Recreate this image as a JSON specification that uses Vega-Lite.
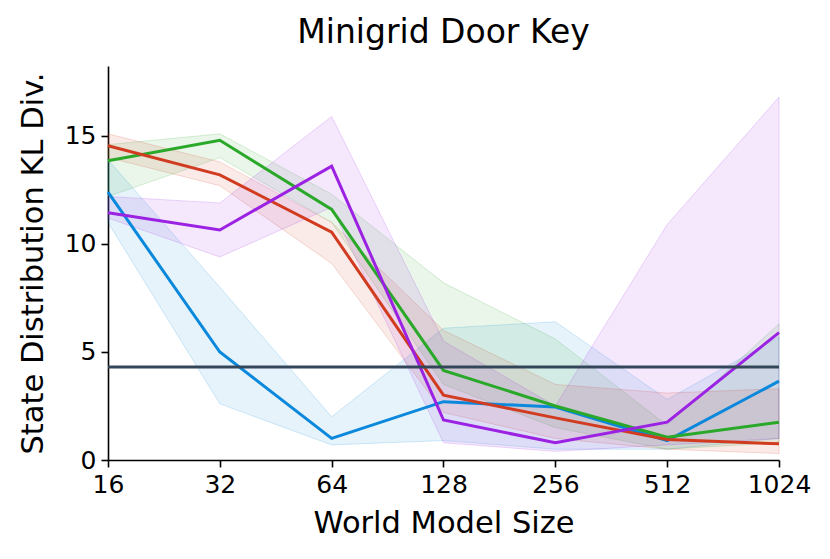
{
  "$schema": "https://vega.github.io/schema/vega-lite/v6.json",
  "width": 671,
  "height": 394,
  "autosize": {"type": "none"},
  "padding": {"left": 108, "top": 66, "right": 51, "bottom": 99},
  "background": "white",
  "title": {"text": "Minigrid Door Key", "fontSize": 33, "font": "DejaVu Sans", "fontWeight": "normal", "color": "black", "offset": 16},
  "config": {
    "view": {"stroke": null},
    "axis": {"labelFont": "DejaVu Sans", "titleFont": "DejaVu Sans", "labelFontSize": 25, "titleFontSize": 30.5, "titleFontWeight": "normal", "labelColor": "black", "titleColor": "black", "domainColor": "black", "tickColor": "black", "domainWidth": 1.6, "tickWidth": 1.6, "tickSize": 7, "labelPadding": 5, "grid": false}
  },
  "datasets": {
    "runs": [
      {"series": "A", "size": 16, "mean": 12.4, "lo": 11.0, "hi": 13.9},
      {"series": "A", "size": 32, "mean": 5.0, "lo": 2.6, "hi": 8.0},
      {"series": "A", "size": 64, "mean": 1.0, "lo": 0.7, "hi": 2.0},
      {"series": "A", "size": 128, "mean": 2.7, "lo": 0.9, "hi": 6.1},
      {"series": "A", "size": 256, "mean": 2.45, "lo": 0.5, "hi": 6.4},
      {"series": "A", "size": 512, "mean": 0.9, "lo": 0.5, "hi": 2.8},
      {"series": "A", "size": 1024, "mean": 3.65, "lo": 1.0, "hi": 5.7},
      {"series": "B", "size": 16, "mean": 13.85, "lo": 12.2, "hi": 14.6},
      {"series": "B", "size": 32, "mean": 14.8, "lo": 14.0, "hi": 15.1},
      {"series": "B", "size": 64, "mean": 11.6, "lo": 11.0, "hi": 12.3},
      {"series": "B", "size": 128, "mean": 4.15, "lo": 3.5, "hi": 8.2},
      {"series": "B", "size": 256, "mean": 2.5, "lo": 1.5, "hi": 5.6},
      {"series": "B", "size": 512, "mean": 1.05, "lo": 0.5, "hi": 1.6},
      {"series": "B", "size": 1024, "mean": 1.75, "lo": 0.8, "hi": 6.3},
      {"series": "C", "size": 16, "mean": 14.55, "lo": 14.0, "hi": 15.1},
      {"series": "C", "size": 32, "mean": 13.2, "lo": 12.7, "hi": 13.8},
      {"series": "C", "size": 64, "mean": 10.55, "lo": 9.1, "hi": 11.0},
      {"series": "C", "size": 128, "mean": 3.0, "lo": 2.2, "hi": 6.0},
      {"series": "C", "size": 256, "mean": 1.95, "lo": 1.0, "hi": 3.5},
      {"series": "C", "size": 512, "mean": 0.95, "lo": 0.5, "hi": 3.1},
      {"series": "C", "size": 1024, "mean": 0.75, "lo": 0.3, "hi": 3.3},
      {"series": "D", "size": 16, "mean": 11.45, "lo": 11.2, "hi": 12.2},
      {"series": "D", "size": 32, "mean": 10.65, "lo": 9.4, "hi": 11.9},
      {"series": "D", "size": 64, "mean": 13.6, "lo": 11.7, "hi": 15.9},
      {"series": "D", "size": 128, "mean": 1.85, "lo": 0.8, "hi": 5.5},
      {"series": "D", "size": 256, "mean": 0.8, "lo": 0.4, "hi": 2.5},
      {"series": "D", "size": 512, "mean": 1.75, "lo": 0.7, "hi": 10.9},
      {"series": "D", "size": 1024, "mean": 5.9, "lo": 1.0, "hi": 16.8}
    ],
    "baseline": [{"value": 4.3}]
  },
  "layer": [
    {
      "data": {"name": "runs"},
      "mark": {"type": "area", "orient": "vertical", "fillOpacity": 0.1, "strokeOpacity": 0.18, "strokeWidth": 1},
      "encoding": {
        "x": {"field": "size", "type": "quantitative", "scale": {"type": "log", "base": 2, "domain": [16, 1024], "nice": false},
          "axis": {"values": [16, 32, 64, 128, 256, 512, 1024], "format": "d", "title": "World Model Size", "labelFlush": false, "titlePadding": 11}},
        "y": {"field": "hi", "type": "quantitative", "scale": {"domain": [0, 18.24], "nice": false},
          "axis": {"values": [0, 5, 10, 15], "title": "State Distribution KL Div.", "titlePadding": 16}},
        "y2": {"field": "lo"},
        "color": {"field": "series", "type": "nominal", "scale": {"domain": ["A", "B", "C", "D"], "range": ["#0a88dc", "#2aa82a", "#d13b1f", "#9b22e2"]}, "legend": null},
        "stroke": {"field": "series", "type": "nominal", "scale": {"domain": ["A", "B", "C", "D"], "range": ["#0a88dc", "#2aa82a", "#d13b1f", "#9b22e2"]}, "legend": null}
      }
    },
    {
      "data": {"name": "runs"},
      "mark": {"type": "line", "strokeWidth": 3},
      "encoding": {
        "x": {"field": "size", "type": "quantitative"},
        "y": {"field": "mean", "type": "quantitative"},
        "color": {"field": "series", "type": "nominal", "legend": null}
      }
    },
    {
      "data": {"name": "baseline"},
      "mark": {"type": "rule", "color": "#34465a", "strokeWidth": 3},
      "encoding": {"y": {"field": "value", "type": "quantitative"}}
    }
  ]
}
